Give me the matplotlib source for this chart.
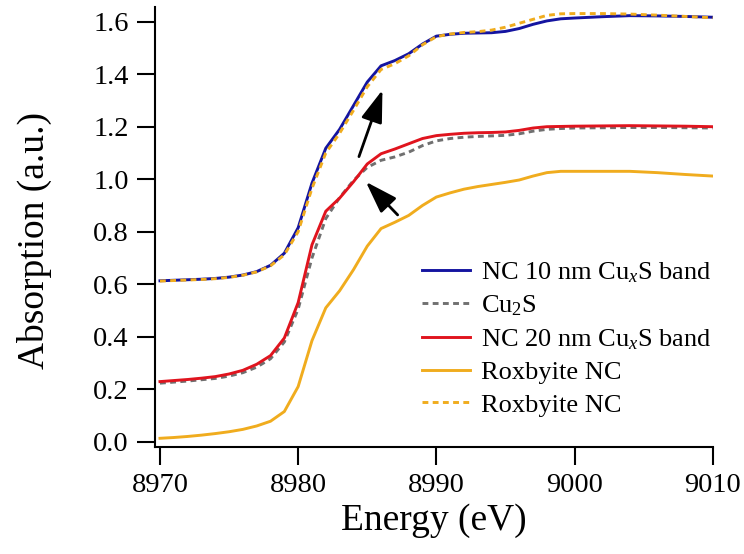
import matplotlib
matplotlib.use("Agg")
import matplotlib.pyplot as plt

plt.rcParams['font.family'] = ['Liberation Serif', 'DejaVu Serif']
plt.rcParams['mathtext.fontset'] = 'custom'
plt.rcParams['mathtext.rm'] = 'Liberation Serif'
plt.rcParams['mathtext.it'] = 'Liberation Serif:italic'

energy = list(range(8970, 9001)) + [9002, 9004, 9006, 9008, 9010]

nc10 = [0.613, 0.615, 0.617, 0.619, 0.622, 0.627, 0.635, 0.648, 0.672, 0.718,
        0.815, 0.985, 1.118, 1.190, 1.280, 1.370, 1.432, 1.452, 1.478, 1.515,
        1.545, 1.552, 1.556, 1.557, 1.558, 1.563, 1.574, 1.590, 1.603, 1.611,
        1.614, 1.619, 1.623, 1.622, 1.620, 1.617]

cu2s = [0.223, 0.227, 0.231, 0.236, 0.241, 0.250, 0.263, 0.284, 0.316, 0.380,
        0.505, 0.700, 0.850, 0.930, 0.995, 1.045, 1.072, 1.085, 1.103, 1.128,
        1.146, 1.155, 1.160, 1.163, 1.165, 1.167, 1.173, 1.183, 1.190, 1.193,
        1.195, 1.196, 1.197, 1.197, 1.196, 1.195]

nc20 = [0.229, 0.233, 0.237, 0.242, 0.248, 0.258, 0.272, 0.295, 0.328, 0.395,
        0.530, 0.750, 0.878, 0.928, 0.990, 1.058, 1.097, 1.115, 1.135, 1.155,
        1.166, 1.171, 1.175, 1.177, 1.178, 1.180, 1.186, 1.195, 1.200, 1.201,
        1.202, 1.203, 1.204, 1.203, 1.202, 1.200]

rox = [0.013, 0.016, 0.020, 0.025, 0.031, 0.038, 0.047, 0.060, 0.078, 0.115,
       0.210, 0.385, 0.510, 0.575, 0.655, 0.745, 0.812, 0.836, 0.862, 0.900,
       0.932, 0.948, 0.962, 0.972, 0.980, 0.988, 0.997, 1.012, 1.025, 1.030,
       1.030, 1.030, 1.030, 1.025, 1.018, 1.012]

rox_shift = [0.612, 0.614, 0.616, 0.618, 0.621, 0.626, 0.634, 0.647, 0.670, 0.712,
             0.800, 0.965, 1.100, 1.175, 1.262, 1.352, 1.418, 1.440, 1.470, 1.512,
             1.543, 1.553, 1.559, 1.562, 1.568, 1.579, 1.594, 1.609, 1.624, 1.630,
             1.631, 1.631, 1.629, 1.625, 1.620, 1.615]

labels = ["NC 10 nm Cu$_{x}$S band", "Cu$_2$S", "NC 20 nm Cu$_{x}$S band",
          "Roxbyite NC", "Roxbyite NC"]

xticks = [8970, 8980, 8990, 9000, 9010]
yticks = [0.0, 0.2, 0.4, 0.6, 0.8, 1.0, 1.2, 1.4, 1.6]

fig = plt.figure(figsize=(7.44, 5.54), dpi=100)
ax = fig.add_axes([155/744, 1-446.7/554, (712.7-155)/744, (446.7-7)/554])

dash = (0, (2.0, 1.5))
lw = 2.1
ax.plot(energy, nc10, color='#1414a0', lw=lw, label=labels[0])
ax.plot(energy, cu2s, color='#707070', lw=lw, ls=dash, label=labels[1])
ax.plot(energy, nc20, color='#e0141e', lw=lw, label=labels[2])
ax.plot(energy, rox, color='#f0ac1e', lw=lw, label=labels[3])
ax.plot(energy, rox_shift, color='#f0ac1e', lw=lw, ls=dash, label=labels[4])

arrow = dict(arrowstyle='-|>,head_length=0.9,head_width=0.3', color='black',
             lw=2, mutation_scale=22, shrinkA=0, shrinkB=0)
ax.annotate('', xy=(8986.1, 1.34), xytext=(8984.4, 1.086), arrowprops=arrow)
ax.annotate('', xy=(8984.9, 0.99), xytext=(8987.2, 0.864), arrowprops=arrow)

ax.set_xlim(8969.64, 9010)
ax.set_ylim(-0.019, 1.656)
ax.set_xticks(xticks)
ax.set_yticks(yticks)
ax.set_yticklabels([f"{v:.1f}" for v in yticks])
ax.tick_params(direction='out', length=13, width=1.5, labelsize=20.5, pad=6)
for s in ['top', 'right']:
    ax.spines[s].set_visible(False)
for s in ['left', 'bottom']:
    ax.spines[s].set_linewidth(1.5)

ax.set_xlabel("Energy (eV)", fontsize=27, labelpad=4)
ax.set_ylabel("Absorption (a.u.)", fontsize=27)
ax.yaxis.set_label_coords(-0.185, 0.47)

ax.legend(loc='upper left', bbox_to_anchor=(421.7/744, 1-260/554),
          bbox_transform=fig.transFigure, frameon=False, fontsize=19,
          handlelength=1.82, handletextpad=0.44, labelspacing=0.34,
          borderpad=0, borderaxespad=0)

fig.savefig("out.png", dpi=100)
